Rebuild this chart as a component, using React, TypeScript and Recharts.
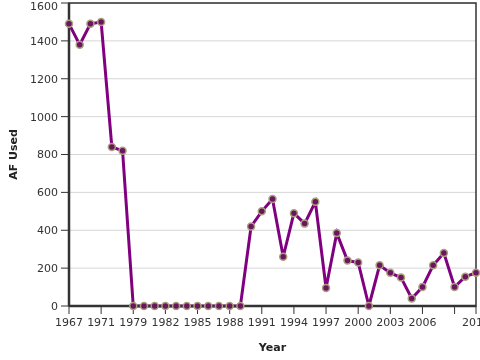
import React from "react";
import {
  LineChart,
  Line,
  XAxis,
  YAxis,
  CartesianGrid,
  ReferenceArea,
  Label,
} from "recharts";

// years on the category axis (the gap years are simply not in the record)
const years = [
  "1967", "1968", "1970", "1971", "1977", "1978", "1979", "1980", "1981", "1982",
  "1983", "1984", "1985", "1986", "1987", "1988", "1989", "1990", "1991", "1992",
  "1993", "1994", "1995", "1996", "1997", "1998", "1999", "2000", "2001", "2002",
  "2003", "2004", "2005", "2006", "2007", "2008", "2009", "2010", "2011",
];

// acre-feet used per year
const afUsed = [
  1490, 1380, 1490, 1500, 840, 820, 0, 0, 0, 0,
  0, 0, 0, 0, 0, 0, 0, 420, 500, 565,
  260, 490, 435, 550, 95, 385, 240, 230, 0, 215,
  175, 150, 40, 100, 215, 280, 100, 155, 175,
];

const yTicks = [0, 200, 400, 600, 800, 1000, 1200, 1400, 1600];
const xTicks = ["1967", "1971", "1979", "1982", "1985", "1988", "1991", "1994", "1997", "2000", "2003", "2006", "2009", "2011"];
const hiddenXLabels = ["2009"];

const data = years.map((year, i) => ({ year, af: afUsed[i] }));

const tickStyle = { fill: "#333", fontSize: 11 };

export default function App() {
  return (
    <div style={{ position: "fixed", left: 0, top: 0, fontFamily: "'DejaVu Sans', sans-serif" }}>
      <LineChart width={480} height={360} data={data} margin={{ top: 3, right: 4, left: 0, bottom: 0 }}>
        <CartesianGrid vertical={false} stroke="#d6d6d6" />
        <ReferenceArea
          x1={years[0]}
          x2={years[years.length - 1]}
          y1={0}
          y2={1600}
          fill="none"
          stroke="#333"
          strokeWidth={1.5}
          ifOverflow="visible"
        />
        <XAxis
          dataKey="year"
          ticks={xTicks}
          interval={0}
          tick={tickStyle}
          tickSize={8}
          tickMargin={4}
          tickLine={{ stroke: "#333" }}
          tickFormatter={(v) => (hiddenXLabels.includes(v) ? "" : v)}
          axisLine={{ stroke: "#333", strokeWidth: 2.5 }}
          height={54}
        >
          <Label value="Year" position="insideBottom" offset={9} style={{ fontWeight: "bold", fill: "#222", fontSize: 11 }} />
        </XAxis>
        <YAxis
          domain={[0, 1600]}
          ticks={yTicks}
          tick={tickStyle}
          tickSize={8}
          tickMargin={3}
          tickLine={{ stroke: "#333" }}
          axisLine={{ stroke: "#333", strokeWidth: 2.5 }}
          width={69}
        >
          <Label
            value="AF Used"
            angle={-90}
            position="insideLeft"
            offset={13}
            style={{ fontWeight: "bold", fill: "#222", fontSize: 11, textAnchor: "middle" }}
          />
        </YAxis>
        <Line
          type="linear"
          dataKey="af"
          stroke="#800080"
          strokeWidth={3}
          dot={{ r: 3.5, fill: "#6b1560", stroke: "#aaa07e", strokeWidth: 1.5 }}
          activeDot={false}
          isAnimationActive={false}
        />
      </LineChart>
    </div>
  );
}
